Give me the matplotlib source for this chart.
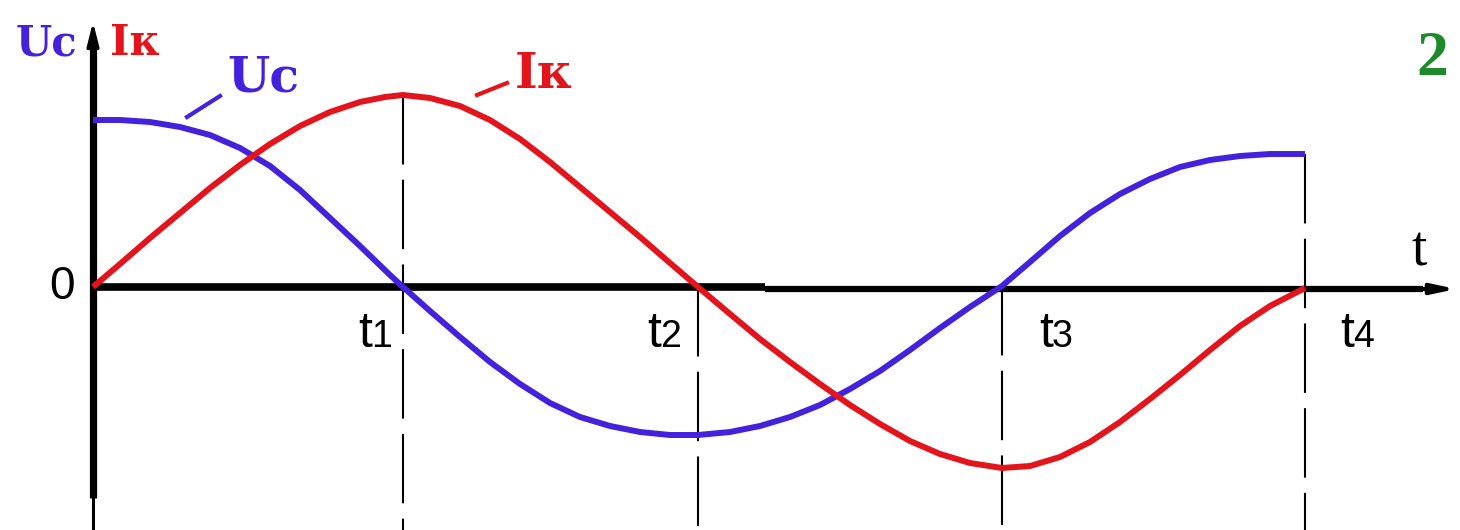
import matplotlib
matplotlib.use("Agg")
import matplotlib.pyplot as plt

plt.rcParams['font.family'] = ['Liberation Sans', 'DejaVu Sans']
plt.rcParams['lines.scale_dashes'] = False

BLUE = '#4422dd'
RED = '#e3141c'
GREEN = '#1f8a2c'

# moments t1..t4 on the time axis (same units as the curves below)
T_NAMES = ['1', '2', '3', '4']
T_POS = [310, 605, 909, 1212]

# Uc (capacitor voltage)
uc_t = [0, 27, 57, 87, 117, 147, 177, 207, 237, 267, 297, 310, 337, 367, 397, 427,
        457, 487, 517, 547, 577, 605, 637, 667, 697, 727, 757, 787, 817, 847, 877,
        909, 937, 967, 997, 1027, 1057, 1087, 1117, 1147, 1177, 1212]
uc_v = [167, 167, 165, 160, 152, 139, 121, 97, 69, 41, 12, 0, -24, -50, -75, -97,
        -116, -130, -139, -145, -148, -148, -145, -139, -130, -118, -102, -84, -63,
        -41, -20, 1, 25, 51, 74, 93, 108, 120, 127, 131, 133, 133]

# Ik (coil current)
ik_t = [0, 27, 57, 87, 117, 147, 177, 207, 237, 267, 292, 310, 337, 367, 397, 427,
        457, 487, 517, 547, 577, 605, 637, 667, 697, 727, 757, 787, 817, 847, 877,
        909, 937, 967, 997, 1027, 1057, 1087, 1117, 1147, 1177, 1212]
ik_v = [0, 23, 49, 74, 99, 122, 143, 161, 175, 185, 190, 192, 189, 181, 167, 148,
        125, 100, 75, 50, 24, 0, -27, -52, -75, -97, -118, -137, -154, -167, -176,
        -181, -179, -170, -155, -135, -112, -88, -63, -39, -19, -1]

fig = plt.figure(figsize=(14.6, 5.3), dpi=100)
ax = fig.add_axes([0, 0, 1, 1])
ax.set_xlim(-93, 1367)
ax.set_ylim(-243, 287)
ax.axis('off')

# dashed guides at t1..t4, from the highest curve point down to the bottom
for tp in T_POS:
    top = max(0, uc_v[uc_t.index(tp)], ik_v[ik_t.index(tp)])
    ax.plot([tp, tp], [top, -243], color='black', lw=1.5, dashes=(50, 11), zorder=1)

# axes
ax.plot([0, 0], [-211, 240], color='black', lw=5.2, solid_capstyle='butt', zorder=2)
ax.plot([0, 0], [-243, -211], color='black', lw=2.2, zorder=2)
ax.annotate('', xy=(0, 268), xytext=(0, 236),
            arrowprops=dict(arrowstyle='-|>,head_length=1.4,head_width=0.35',
                            color='black', lw=2.5))
ax.plot([-3, 672], [0, 0], color='black', lw=5.5, solid_capstyle='butt', zorder=2)
ax.plot([672, 1330], [-2, -2], color='black', lw=4.5, solid_capstyle='butt', zorder=2)
ax.annotate('', xy=(1366, -2), xytext=(1320, -2),
            arrowprops=dict(arrowstyle='-|>,head_length=1.4,head_width=0.3',
                            color='black', lw=3))

# curves
ax.plot(uc_t, uc_v, color=BLUE, lw=4.3, solid_capstyle='butt',
        solid_joinstyle='round', zorder=3)
ax.plot(ik_t, ik_v, color=RED, lw=4.3, solid_capstyle='butt',
        solid_joinstyle='round', zorder=4)

# leader lines to the curve labels
ax.plot([94, 127], [170, 191], color=BLUE, lw=3)
ax.plot([384, 414], [192, 204], color=RED, lw=3)

dv_b = dict(family=['DejaVu Serif'], weight='bold')
ax.text(-47, 232, 'Uc', color=BLUE, fontsize=30, ha='center', va='baseline', **dv_b)
ax.text(42, 232, 'Iк', color=RED, fontsize=30, ha='center', va='baseline', **dv_b)
ax.text(134, 195, 'Uc', color=BLUE, fontsize=35, ha='left', va='baseline', **dv_b)
ax.text(422, 199, 'Iк', color=RED, fontsize=35, ha='left', va='baseline', **dv_b)
ax.text(1339, 212, '2', color=GREEN, fontsize=46, ha='center', va='baseline',
        family=['Liberation Serif', 'DejaVu Serif'], weight='bold')

ax.text(1326, 22, 't', fontsize=40, ha='center', va='baseline',
        family=['Liberation Serif', 'DejaVu Serif'])
ax.text(-31, 0, '0', fontsize=33, ha='center', va='center')

# t-labels: big "t" + smaller digit, split point relative to the guide line
split_off = [-32, -38, 50, 48]
for name, tp, off in zip(T_NAMES, T_POS, split_off):
    xs = tp + off
    ax.text(xs + 1, -60, 't', fontsize=36, ha='right', va='baseline')
    ax.text(xs, -60, name, fontsize=27, ha='left', va='baseline')

fig.savefig('out.png', dpi=100)
